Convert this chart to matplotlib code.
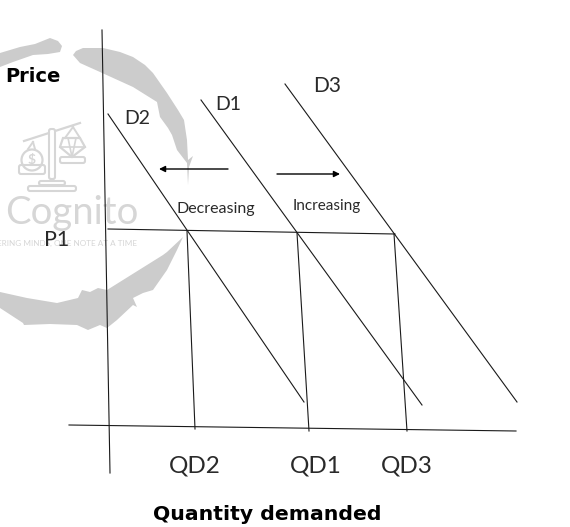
import matplotlib
matplotlib.use("Agg")
import matplotlib.pyplot as plt
from matplotlib.patches import Polygon, Circle, FancyBboxPatch

W, H = 570, 527
FONT = "Lato"
BOLD = "DejaVu Sans"
INK = "#1a1a1a"
TEXT = "#2a2a2a"
GREY = "#cccccc"
LOGO = "#d6d6d6"

y_axis = ([102, 110], [30, 473])
x_axis = ([69, 516], [425, 431])
d2 = ([108, 304], [114, 402])
d1 = ([201, 422], [100, 405])
d3 = ([285, 517], [84, 402])
p1_line = ([108, 395], [229, 234])
qd2_line = ([187, 195], [231, 429])
qd1_line = ([297, 309], [233, 431])
qd3_line = ([394, 407], [234, 431])
arrow_left = ((228, 169), (159, 169))
arrow_right = ((277, 174), (340, 174))

labels = [("D1", 228, 105, 14), ("D2", 137, 118, 14), ("D3", 327, 86, 15),
          ("P1", 57, 240, 15.5), ("QD2", 195, 466, 17.5), ("QD1", 316, 466, 17.5),
          ("QD3", 407, 466, 17.5), ("Decreasing", 216, 209, 11.5), ("Increasing", 327, 206, 11)]
bold_labels = [("Price", 33, 76, 14), ("Quantity demanded", 267, 514, 14.7)]

swoosh_a = [(0, 53), (20, 47), (35, 44), (50, 38), (58, 41), (62, 46), (60, 52), (48, 54), (33, 55), (13, 62), (0, 67)]
swoosh_b = [(73, 55), (76, 51), (83, 48), (103, 48), (120, 52), (133, 57), (145, 65), (153, 73), (167, 93),
            (178, 110), (184, 120), (187, 140), (188, 160), (193, 156), (189, 167), (188, 185), (187, 163),
            (177, 150), (172, 135), (168, 128), (160, 117), (157, 102), (133, 87), (100, 72), (80, 63)]
swoosh_c = [(183, 237), (167, 252), (163, 255), (107, 290), (98, 288), (90, 292), (82, 290), (78, 298), (57, 303),
            (27, 298), (0, 292), (0, 308), (23, 323), (24, 325), (50, 324), (77, 325), (88, 330), (100, 325),
            (107, 328), (117, 320), (133, 305), (137, 307), (133, 298), (143, 293), (153, 290), (167, 270),
            (177, 250)]

beam = ([24, 80], [141, 123])
ties = [([33, 28], [142, 149]), ([33, 35], [142, 149]), ([73, 65], [127, 138]), ([73, 80], [127, 138])]
diamond = [(63, 138), (80, 138), (85, 147), (72, 157), (60, 147)]
money_bag = (32, 160, 10.5)
left_pan = (19, 165, 26, 9)
right_pan = (60, 157, 25, 6)
post = (49, 129, 6, 50)
base_top = (39, 181, 26, 4)
base_bottom = (28, 186, 48, 5)

fig = plt.figure(figsize=(W / 100, H / 100), dpi=100)
ax = fig.add_axes([0, 0, 1, 1])
ax.set_xlim(0, W)
ax.set_ylim(H, 0)
ax.axis("off")

for pts in (swoosh_a, swoosh_b, swoosh_c):
    ax.add_patch(Polygon(pts, closed=True, fc=GREY, ec="none", zorder=1))

ax.plot(*beam, color=LOGO, lw=1.6, zorder=1)
for xs, ys in ties:
    ax.plot(xs, ys, color=LOGO, lw=1.4, zorder=1)
ax.add_patch(Polygon(diamond, closed=True, fc="none", ec=LOGO, lw=1.6, zorder=1))
ax.plot([60, 85], [147, 147], color=LOGO, lw=1.2, zorder=1)
ax.plot([68, 72, 76], [138, 157, 138], color=LOGO, lw=1.2, zorder=1)
ax.add_patch(Circle(money_bag[:2], money_bag[2], fc="none", ec=LOGO, lw=1.6, zorder=1))
ax.text(32, 160, "$", color=LOGO, fontsize=10, fontweight="bold", ha="center", va="center", family=FONT, zorder=1)
for x, y, w, h in (left_pan, right_pan, post, base_top, base_bottom):
    ax.add_patch(FancyBboxPatch((x, y), w, h, boxstyle="round,pad=0,rounding_size=2",
                                fc="white" if (x, y, w, h) == post else "none", ec=LOGO, lw=1.5, zorder=1))
ax.text(72, 213, "Cognito", color=LOGO, fontsize=27.5, ha="center", va="center", family=FONT, zorder=1)
ax.text(137, 243, "EMPOWERING MINDS, ONE NOTE AT A TIME", color=LOGO, fontsize=5.9,
        ha="right", va="center", family=FONT, zorder=1)

for xs, ys in (y_axis, x_axis, d2, d1, d3, p1_line, qd2_line, qd1_line, qd3_line):
    ax.plot(xs, ys, color=INK, lw=0.8, zorder=2)

for start, end in (arrow_left, arrow_right):
    ax.annotate("", xy=end, xytext=start, zorder=3,
                arrowprops=dict(arrowstyle="-|>", color="black", lw=1, mutation_scale=9, shrinkA=0, shrinkB=0))

for s, x, y, size in labels:
    ax.text(x, y, s, fontsize=size, ha="center", va="center", color=TEXT, family=FONT, zorder=4)
for s, x, y, size in bold_labels:
    ax.text(x, y, s, fontsize=size, ha="center", va="center", color="black",
            family=BOLD, fontweight="bold", zorder=4)

fig.savefig("out.png", dpi=100)
